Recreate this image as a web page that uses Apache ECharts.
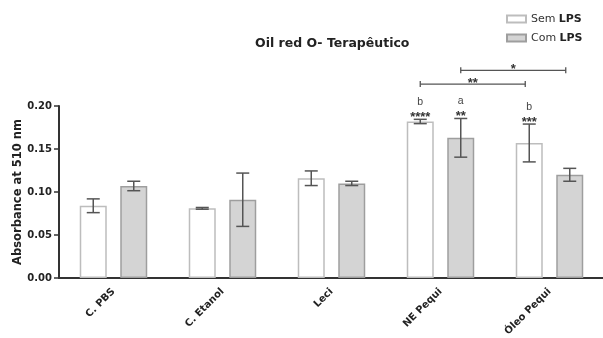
<!DOCTYPE html>
<html><head><meta charset="utf-8">
<script src="https://cdn.jsdelivr.net/npm/echarts@6/dist/echarts.min.js"></script>
<style>html,body{margin:0;padding:0;background:#fff}#c{width:603px;height:338px}</style>
</head><body><div id="c"></div>
<script>
// ---- data ----
const categories = ['C. PBS', 'C. Etanol', 'Leci', 'NE Pequi', 'Óleo Pequi'];
const seriesNames = ['Sem LPS', 'Com LPS'];
const semMean = [0.084, 0.081, 0.116, 0.182, 0.157];
const semErr  = [0.008, 0.001, 0.0085, 0.0025, 0.022];
const comMean = [0.107, 0.091, 0.110, 0.163, 0.120];
const comErr  = [0.0055, 0.031, 0.0025, 0.0225, 0.0075];
const semStars   = ['', '', '', '****', '***'];
const comStars   = ['', '', '', '**', ''];
const semLetters = ['', '', '', 'b', 'b'];
const comLetters = ['', '', '', 'a', ''];
// [startCategory, startSeries, endCategory, endSeries, level, label]
const brackets = [
  [3, 0, 4, 0, 0.2255, '**'],
  [3, 1, 4, 1, 0.2415, '*']
];
const yMax = 0.20, yStep = 0.05;
const titleText = 'Oil red O- Terapêutico';
const yName = 'Absorbance at 510 nm';

// ---- style ----
const FONT = 'DejaVu Sans';
const BAR_W = 27, BAR_GAP = 13.5;
const OFF = (BAR_W + BAR_GAP) / 2;
const ERR_COLOR = '#555';
const STAR_FONT = 'bold 13px "Liberation Sans"';

const errData = [];
semMean.forEach((m, i) => errData.push({ value: [i, m, semErr[i], 0], stars: semStars[i], letter: semLetters[i] }));
comMean.forEach((m, i) => errData.push({ value: [i, m, comErr[i], 1], stars: comStars[i], letter: comLetters[i] }));

function renderErr(params, api) {
  const d = errData[params.dataIndex];
  const cat = api.value(0), mean = api.value(1), err = api.value(2), side = api.value(3);
  const off = side ? OFF : -OFF;
  const top = api.coord([cat, mean + err]);
  const bot = api.coord([cat, mean - err]);
  const x = top[0] + off;
  const cw = 6.5;
  const st = { stroke: ERR_COLOR, lineWidth: 1.5 };
  const children = [
    { type: 'line', shape: { x1: x, y1: top[1], x2: x, y2: bot[1] }, style: st },
    { type: 'line', shape: { x1: x - cw, y1: top[1], x2: x + cw, y2: top[1] }, style: st },
    { type: 'line', shape: { x1: x - cw, y1: bot[1], x2: x + cw, y2: bot[1] }, style: st }
  ];
  if (d.stars) children.push({ type: 'text', style: { text: d.stars, x: x, y: top[1] - 2, align: 'center', verticalAlign: 'middle', font: STAR_FONT, fill: '#333' } });
  if (d.letter) children.push({ type: 'text', style: { text: d.letter, x: x, y: top[1] - 17, align: 'center', verticalAlign: 'middle', font: '10.5px "Liberation Sans"', fill: '#444' } });
  return { type: 'group', children };
}

function renderBracket(params, api) {
  const b = brackets[params.dataIndex];
  const p1 = api.coord([b[0], b[4]]);
  const p2 = api.coord([b[2], b[4]]);
  const x1 = p1[0] + (b[1] ? OFF : -OFF);
  const x2 = p2[0] + (b[3] ? OFF : -OFF) - 4;
  const y = p1[1];
  const st = { stroke: ERR_COLOR, lineWidth: 1.3 };
  return { type: 'group', children: [
    { type: 'line', shape: { x1, y1: y, x2, y2: y }, style: st },
    { type: 'line', shape: { x1, y1: y - 3, x2: x1, y2: y + 3 }, style: st },
    { type: 'line', shape: { x1: x2, y1: y - 3, x2, y2: y + 3 }, style: st },
    { type: 'text', style: { text: b[5], x: (x1 + x2) / 2, y: y - 1, align: 'center', verticalAlign: 'middle', font: STAR_FONT, fill: '#333' } }
  ] };
}

const chart = echarts.init(document.getElementById('c'), null, { renderer: 'canvas' });
chart.setOption({
  animation: false,
  backgroundColor: '#fff',
  title: { text: titleText, left: 250, top: 32, textStyle: { fontFamily: FONT, fontSize: 12.5, fontWeight: 'bold', color: '#222' } },
  legend: {
    orient: 'vertical', left: 501, top: 8, itemWidth: 19, itemHeight: 7, itemGap: 7,
    data: seriesNames, icon: 'rect',
    formatter: n => { const p = n.split(' '); return '{n|' + p[0] + '} {b|' + p[1] + '}'; },
    textStyle: { rich: {
      n: { fontFamily: FONT, fontSize: 11, color: '#333' },
      b: { fontFamily: FONT, fontSize: 11, fontWeight: 'bold', color: '#222' }
    } }
  },
  grid: { left: 59, width: 545, top: 106, bottom: 60, containLabel: false, outerBoundsMode: 'none' },
  xAxis: {
    type: 'category', data: categories, boundaryGap: true,
    axisLine: { lineStyle: { color: '#333', width: 2 } },
    axisTick: { alignWithLabel: true, length: 4, lineStyle: { color: '#333', width: 1.5 } },
    axisLabel: { rotate: 45, margin: 12, fontFamily: FONT, fontSize: 10, fontWeight: 'bold', color: '#222' }
  },
  yAxis: {
    type: 'value', min: 0, max: yMax, interval: yStep,
    name: yName, nameLocation: 'middle', nameGap: 35, nameRotate: 90, nameMoveOverlap: false,
    nameTextStyle: { fontFamily: FONT, fontSize: 11.5, fontWeight: 'bold', color: '#222' },
    axisLine: { show: true, lineStyle: { color: '#333', width: 2 } },
    axisTick: { show: true, length: 5, lineStyle: { color: '#333', width: 1.5 } },
    axisLabel: { margin: 7, fontFamily: FONT, fontSize: 10, fontWeight: 'bold', color: '#222', formatter: v => v.toFixed(2) },
    splitLine: { show: false }
  },
  series: [
    { name: seriesNames[0], type: 'bar', data: semMean, barWidth: BAR_W, barGap: '50%',
      itemStyle: { color: '#ffffff', borderColor: '#bdbdbd', borderWidth: 1.5 } },
    { name: seriesNames[1], type: 'bar', data: comMean, barWidth: BAR_W, barGap: '50%',
      itemStyle: { color: '#d4d4d4', borderColor: '#9e9e9e', borderWidth: 1.5 } },
    { type: 'custom', name: 'err', renderItem: renderErr, data: errData.map(d => d.value), z: 5, clip: false, encode: { x: 0, y: 1 } },
    { type: 'custom', name: 'brk', renderItem: renderBracket, data: brackets.map(b => [b[0], b[4]]), z: 5, clip: false, encode: { x: 0, y: 1 } }
  ]
});
</script></body></html>
